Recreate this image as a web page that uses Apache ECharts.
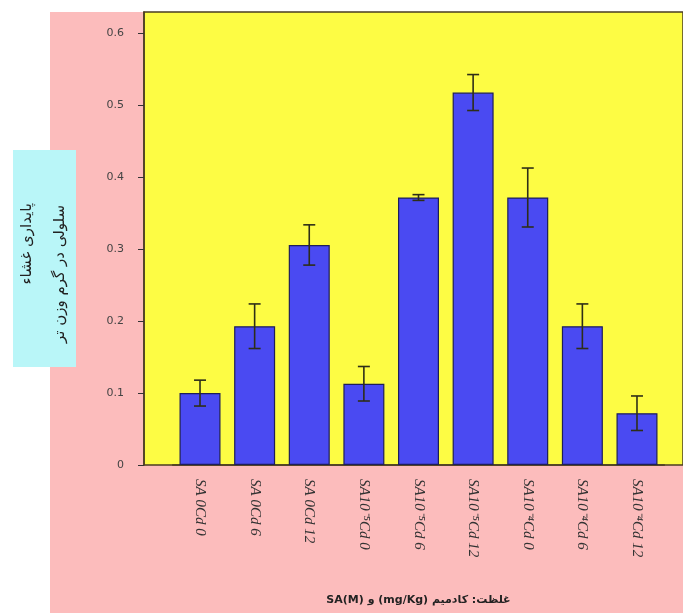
<!DOCTYPE html>
<html>
<head>
<meta charset="utf-8">
<title>SA Cd</title>
<script src="https://cdn.jsdelivr.net/npm/echarts@6.0.0/dist/echarts.min.js"></script>
<style>
  html, body { margin: 0; padding: 0; background: #fff; }
  #container { width: 683px; height: 613px; }
</style>
</head>
<body>
<div id="container"></div>
<script>
var categories = ['SA 0Cd 0', 'SA 0Cd 6', 'SA 0Cd 12',
                  'SA10⁻⁵Cd 0', 'SA10⁻⁵Cd 6', 'SA10⁻⁵Cd 12',
                  'SA10⁻⁴Cd 0', 'SA10⁻⁴Cd 6', 'SA10⁻⁴Cd 12'];
var means = [0.100, 0.193, 0.306, 0.113, 0.372, 0.518, 0.372, 0.193, 0.072];
var errors = [0.018, 0.031, 0.028, 0.024, 0.004, 0.025, 0.041, 0.031, 0.024];
var yTitle = ['پایداری غشاء', 'سلولی در گرم وزن تر'];
var xTitle = 'غلظت: کادمیم (mg/Kg) و SA(M)';

window.onload = function () {
    draw();
};

// wrap right-to-left text so canvas lays it out as an RTL run
function rtl(s) {
    return '\u202B' + s + '\u202C';
}

function draw() {
    var dom = document.getElementById("container");
    var myChart = echarts.init(dom);

    var errData = [];
    for (var i = 0; i < means.length; i++) {
        errData.push([i, means[i], errors[i]]);
    }

    var option = {
        animation: false,
        backgroundColor: '#ffffff',
        graphic: [
            // pink panel and cyan title box
            { type: 'rect', z: -10, shape: { x: 50, y: 12, width: 640, height: 610 }, style: { fill: '#fcbcbc' } },
            { type: 'rect', z: -9, shape: { x: 13, y: 150, width: 63, height: 217 }, style: { fill: '#b9f6f8' } },
            {
                type: 'text', z: 10, x: 27, y: 203, rotation: Math.PI / 2,
                style: { text: rtl(yTitle[0]), font: '15px "DejaVu Sans"', fill: '#222', align: 'right', verticalAlign: 'middle' }
            },
            {
                type: 'text', z: 10, x: 60, y: 205, rotation: Math.PI / 2,
                style: { text: rtl(yTitle[1]), font: '15px "DejaVu Sans"', fill: '#222', align: 'right', verticalAlign: 'middle' }
            }
        ],
        grid: [
            { left: 144, right: -2, top: 12, bottom: 148, show: true, backgroundColor: '#fdfc44',
              borderColor: '#4a3c22', borderWidth: 1.5 },
            { left: 172.7, right: 18.7, top: 12, bottom: 148 }
        ],
        xAxis: [
            { gridIndex: 0, type: 'value', show: false, min: 0, max: 1 },
            {
                gridIndex: 1,
                type: 'category',
                data: categories,
                axisLine: { lineStyle: { color: '#4a3c22', width: 1.5 } },
                axisTick: { alignWithLabel: true, length: 5, lineStyle: { color: '#3a3a3a' } },
                axisLabel: {
                    rotate: -90, margin: 14, interval: 0,
                    fontFamily: 'Liberation Serif', fontStyle: 'italic', fontSize: 15, color: '#333'
                },
                name: rtl(xTitle),
                nameLocation: 'middle',
                nameGap: 130,
                nameTextStyle: { fontFamily: 'DejaVu Sans', fontWeight: 'bold', fontSize: 11, color: '#222' }
            }
        ],
        yAxis: [
            {
                gridIndex: 0,
                type: 'value',
                min: 0, max: 0.63, interval: 0.1,
                splitLine: { show: false },
                axisLine: { show: true, lineStyle: { color: '#4a3c22', width: 1.5 } },
                axisTick: { show: true, length: 6, lineStyle: { color: '#333' } },
                axisLabel: {
                    margin: 20, fontSize: 11, color: '#444', fontFamily: 'DejaVu Sans',
                    formatter: function (v) { return v === 0 ? '0' : v.toFixed(1); },
                    showMaxLabel: false
                }
            },
            { gridIndex: 1, type: 'value', min: 0, max: 0.63, show: false }
        ],
        series: [
            {
                type: 'bar',
                xAxisIndex: 1, yAxisIndex: 1,
                data: means,
                barWidth: 41,
                itemStyle: { color: '#4a4af2', borderColor: '#1e1e5a', borderWidth: 1.2 }
            },
            {
                type: 'custom',
                xAxisIndex: 1, yAxisIndex: 1,
                data: errData,
                z: 5,
                renderItem: function (params, api) {
                    var x = api.value(0);
                    var hi = api.coord([x, api.value(1) + api.value(2)]);
                    var lo = api.coord([x, api.value(1) - api.value(2)]);
                    var cap = 6;
                    var st = { stroke: '#2e2e18', lineWidth: 1.6 };
                    return {
                        type: 'group',
                        children: [
                            { type: 'line', shape: { x1: hi[0], y1: hi[1], x2: lo[0], y2: lo[1] }, style: st },
                            { type: 'line', shape: { x1: hi[0] - cap, y1: hi[1], x2: hi[0] + cap, y2: hi[1] }, style: st },
                            { type: 'line', shape: { x1: lo[0] - cap, y1: lo[1], x2: lo[0] + cap, y2: lo[1] }, style: st }
                        ]
                    };
                }
            }
        ]
    };
    myChart.setOption(option, true);
}
</script>
</body>
</html>
